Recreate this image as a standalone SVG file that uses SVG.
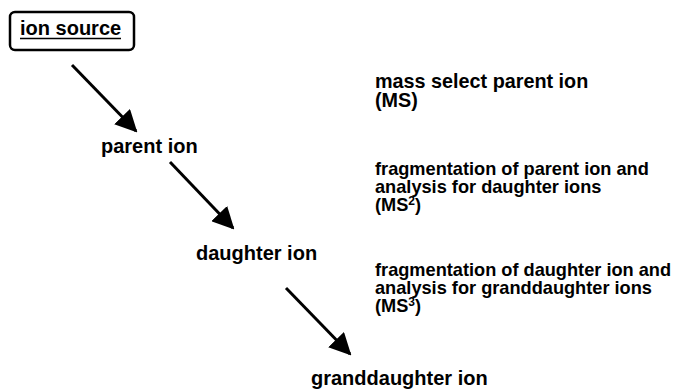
<svg xmlns="http://www.w3.org/2000/svg" width="675" height="392" viewBox="0 0 675 392">
<style>
text{font-family:"Liberation Sans",Arial,Helvetica,sans-serif;font-weight:bold;font-size:20px;fill:#000}
.note{font-size:18.2px}
.note1{font-size:19.8px}
.sup{font-size:12px}
.arrow{stroke:#000;stroke-width:3;fill:none;marker-end:url(#ah)}
</style>
<defs>
<marker id="ah" markerUnits="userSpaceOnUse" markerWidth="22" markerHeight="22" viewBox="0 0 22 22" refX="20" refY="11" orient="auto">
<path d="M0,0 L22,11 L0,22 Z" fill="#000"/>
</marker>
</defs>
<rect width="675" height="392" fill="#fff"/>
<g id="ion-source">
<rect x="10" y="12" width="124" height="38" rx="5" fill="none" stroke="#000" stroke-width="2.5"/>
<text x="20" y="35">ion source</text>
<line x1="20" y1="38.5" x2="121" y2="38.5" stroke="#000" stroke-width="1.6"/>
</g>
<g id="parent-ion"><text x="101" y="153">parent ion</text></g>
<g id="daughter-ion"><text x="196" y="260">daughter ion</text></g>
<g id="granddaughter-ion"><text x="311" y="385">granddaughter ion</text></g>
<g id="step-ms">
<text class="note1" x="375" y="88">mass select parent ion</text>
<text class="note1" x="375" y="107">(MS)</text>
</g>
<g id="step-ms2">
<text class="note" x="375" y="175">fragmentation of parent ion and</text>
<text class="note" x="375" y="193">analysis for daughter ions</text>
<text class="note" x="375" y="211">(MS<tspan class="sup" dy="-6">2</tspan><tspan dy="6">)</tspan></text>
</g>
<g id="step-ms3">
<text class="note" x="375" y="276">fragmentation of daughter ion and</text>
<text class="note" x="375" y="294">analysis for granddaughter ions</text>
<text class="note" x="375" y="312">(MS<tspan class="sup" dy="-6">3</tspan><tspan dy="6">)</tspan></text>
</g>
<g id="connectors">
<line class="arrow" x1="72" y1="65" x2="136" y2="131"/>
<line class="arrow" x1="170" y1="162" x2="233" y2="228"/>
<line class="arrow" x1="286" y1="288" x2="350" y2="354"/>
</g>
</svg>
